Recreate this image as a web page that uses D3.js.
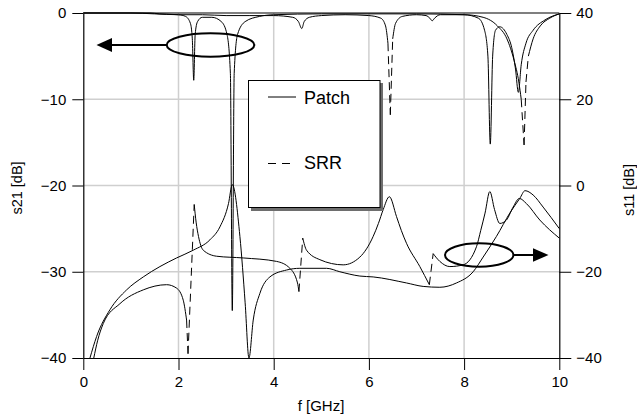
<!DOCTYPE html>
<html><head><meta charset="utf-8">
<script src="https://cdn.jsdelivr.net/npm/d3@7"></script>
<style>
body{margin:0;background:#fff;}
text{font-family:"Liberation Sans",Arial,sans-serif;}
</style></head>
<body><svg id="c" width="637" height="418"></svg>
<script>
// ---- data ----
const xTicks = [0, 2, 4, 6, 8, 10];
const leftTicks = [-40, -30, -20, -10, 0];
const rightTicks = [-40, -20, 0, 20, 40];
const seriesNames = ["Patch", "SRR"];

// s21 in dB (left axis)
const s21Patch = [[0,0],[1.4,0],[1.6,-0.1],[2.0,-0.2],[2.15,-0.4],[2.25,-1.2],[2.29,-3],[2.32,-7.8],[2.35,-2.5],[2.4,-1.0],[2.5,-0.5],[2.7,-0.5],[2.9,-1.0],[3.02,-2.5],[3.09,-7],[3.13,-34.5],[3.17,-7],[3.24,-2.5],[3.4,-1.0],[3.7,-0.4],[4.0,-0.2],[5,-0.1],[6,-0.1],[7,-0.1],[8.0,-0.2],[8.3,-0.6],[8.43,-2],[8.5,-5],[8.55,-15.2],[8.6,-5],[8.66,-2.0],[8.75,-1.6],[8.9,-2.5],[9.0,-4],[9.08,-6.5],[9.14,-9.2],[9.2,-6],[9.3,-3.5],[9.45,-2],[9.7,-0.8],[10,-0.1]];
const s21SRR = [[0,0],[1.0,0],[1.5,-0.1],[2.0,-0.2],[2.5,-0.2],[3.0,-0.3],[3.5,-0.3],[4.0,-0.3],[4.4,-0.5],[4.52,-1.0],[4.59,-1.8],[4.64,-1.0],[4.75,-0.5],[5.0,-0.3],[5.5,-0.2],[6.0,-0.3],[6.25,-0.6],[6.35,-1.5],[6.4,-3.5],[6.45,-11.8],[6.5,-3],[6.56,-1.2],[6.7,-0.4],[7.0,-0.2],[7.2,-0.3],[7.28,-0.6],[7.33,-0.9],[7.38,-0.6],[7.5,-0.2],[8.0,-0.2],[8.4,-0.5],[8.7,-1.5],[8.9,-3],[9.05,-5.5],[9.15,-8],[9.2,-10],[9.26,-15.3],[9.3,-8],[9.35,-5],[9.45,-3],[9.6,-1.5],[9.8,-0.6],[10,-0.1]];
// s11 in dB (right axis)
const s11Patch = [[0.14,-40],[0.28,-35],[0.56,-28.8],[0.91,-24.2],[1.26,-21.2],[1.61,-18.8],[1.96,-16.8],[2.31,-15],[2.66,-12.6],[2.87,-9.6],[3.05,-4.2],[3.13,0.2],[3.29,-11.8],[3.40,-27.2],[3.48,-40],[3.57,-31.2],[3.71,-25],[3.92,-21.2],[4.27,-19.6],[4.55,-19.2],[5.11,-19.2],[5.39,-20],[5.81,-21],[6.09,-21.2],[6.79,-22.6],[7.14,-23.4],[7.49,-23.6],[7.84,-22.6],[8.19,-20],[8.4,-16.6],[8.68,-11.8],[8.96,-6.4],[9.17,-3],[9.28,-1.2],[9.45,-2.2],[9.66,-5],[10,-10]];
const s11SRR = [[0.22,-40],[0.3,-36],[0.42,-32],[0.77,-27.4],[1.26,-24.2],[1.75,-23],[1.96,-23.8],[2.1,-26.6],[2.17,-31.2],[2.2,-39],[2.33,-4.4],[2.37,-8.5],[2.42,-11.8],[2.52,-15],[2.8,-16.4],[3.36,-16.8],[4.06,-17.6],[4.34,-19.2],[4.5,-22.6],[4.53,-24.6],[4.61,-12.2],[4.69,-15],[4.97,-17.2],[5.46,-18.4],[5.81,-16.6],[6.09,-11.8],[6.2,-8.8],[6.3,-5.6],[6.43,-2.6],[6.58,-7.2],[6.68,-10.4],[6.79,-13.4],[7.07,-18.8],[7.27,-23],[7.35,-15.8],[7.49,-17.6],[7.7,-18.8],[7.98,-18.4],[8.26,-14.2],[8.35,-10.4],[8.44,-6.4],[8.54,-1.4],[8.64,-5.6],[8.75,-8.8],[8.89,-8],[9.03,-5],[9.16,-3],[9.31,-4.2],[9.59,-8],[10,-12.2]];

// ---- layout ----
const svg = d3.select("#c");
const X0 = 83.3, X1 = 559.3, Y0 = 13, Y1 = 358;
const x = d3.scaleLinear().domain([0,10]).range([X0,X1]);
const yL = d3.scaleLinear().domain([-40,0]).range([Y1,Y0]);
const yR = d3.scaleLinear().domain([-40,40]).range([Y1,Y0]);

// grid
const grid = svg.append("g").attr("stroke","#cfcfcf").attr("stroke-width",1.5);
xTicks.filter(t=>t>0&&t<10).forEach(t=>grid.append("line").attr("x1",x(t)).attr("x2",x(t)).attr("y1",Y0).attr("y2",Y1));
leftTicks.filter(t=>t>-40&&t<0).forEach(t=>grid.append("line").attr("x1",X0).attr("x2",X1).attr("y1",yL(t)).attr("y2",yL(t)));

// axes
function styleAxis(g){
  g.selectAll("path").attr("stroke","#000").attr("stroke-width",1.2);
  g.selectAll("line").attr("stroke","#000").attr("stroke-width",1);
  g.selectAll("text").attr("font-size",15).attr("fill","#000").attr("font-family","Liberation Sans, Arial, sans-serif");
}
svg.append("g").attr("transform",`translate(${X0},0)`)
  .call(d3.axisLeft(yL).tickValues(leftTicks).tickSize(11).tickSizeOuter(0).tickPadding(6)).call(styleAxis);
svg.append("g").attr("transform",`translate(${X1},0)`)
  .call(d3.axisRight(yR).tickValues(rightTicks).tickSize(12).tickSizeOuter(0).tickPadding(5)).call(styleAxis);
svg.append("g").attr("transform",`translate(0,${Y1})`)
  .call(d3.axisBottom(x).tickValues(xTicks).tickSize(12).tickSizeOuter(0).tickPadding(6)).call(styleAxis);
svg.append("line").attr("x1",X0).attr("x2",X1).attr("y1",Y0).attr("y2",Y0).attr("stroke","#000").attr("stroke-width",1.2);

// axis titles
svg.append("text").attr("x",321).attr("y",411).attr("text-anchor","middle").attr("font-size",15).text("f [GHz]");
svg.append("text").attr("transform","translate(22,188) rotate(-90)").attr("text-anchor","middle").attr("font-size",14.5).text("s21 [dB]");
svg.append("text").attr("transform","translate(634,190) rotate(-90)").attr("text-anchor","middle").attr("font-size",14.5).text("s11 [dB]");

// curves
const curves = svg.append("g").attr("fill","none").attr("stroke","#000").attr("stroke-width",1);
function draw(data, ys, dashed){
  const line = d3.line().x(d=>x(d[0])).y(d=>ys(d[1])).curve(d3.curveMonotoneX);
  if(!dashed){ curves.append("path").attr("d",line(data)); return; }
  let run=[data[0]];
  const flush=()=>{ if(run.length>1) curves.append("path").attr("d",line(run)); };
  for(let i=1;i<data.length;i++){
    const dy=Math.abs(ys(data[i][1])-ys(data[i-1][1]));
    if(dy>25){
      flush();
      curves.append("line").attr("x1",x(data[i-1][0])).attr("y1",ys(data[i-1][1]))
        .attr("x2",x(data[i][0])).attr("y2",ys(data[i][1])).attr("stroke-dasharray","8,5");
      run=[data[i]];
    } else run.push(data[i]);
  }
  flush();
}
draw(s21Patch, yL, false);
draw(s11Patch, yR, false);
draw(s21SRR, yL, true);
draw(s11SRR, yR, true);

// annotations: ellipses with arrows
const ann = svg.append("g").attr("stroke","#000").attr("fill","none").attr("stroke-width",2);
ann.append("ellipse").attr("cx",210.5).attr("cy",45).attr("rx",43.8).attr("ry",11.7);
ann.append("line").attr("x1",166.7).attr("y1",45).attr("x2",110).attr("y2",45);
svg.append("path").attr("d","M96.5,45 L112,38 L112,52 Z").attr("fill","#000");
ann.append("ellipse").attr("cx",479.2).attr("cy",255).attr("rx",34.2).attr("ry",11.7);
ann.append("line").attr("x1",513.4).attr("y1",255).attr("x2",535).attr("y2",255);
svg.append("path").attr("d","M548.5,255 L533,248.3 L533,261.7 Z").attr("fill","#000");

// legend
const lg = svg.append("g");
lg.append("rect").attr("x",251).attr("y",83).attr("width",132).attr("height",128).attr("fill","#6e6e6e");
lg.append("rect").attr("x",248.5).attr("y",80.5).attr("width",131.5).attr("height",127).attr("fill","#fff").attr("stroke","#000").attr("stroke-width",1);
lg.append("line").attr("x1",268).attr("x2",296).attr("y1",97).attr("y2",97).attr("stroke","#000").attr("stroke-width",1);
lg.append("text").attr("x",304).attr("y",103.5).attr("font-size",18).text(seriesNames[0]);
lg.append("line").attr("x1",268).attr("x2",296).attr("y1",163.5).attr("y2",163.5).attr("stroke","#000").attr("stroke-width",1).attr("stroke-dasharray","8,6");
lg.append("text").attr("x",304).attr("y",168.5).attr("font-size",18).text(seriesNames[1]);
</script></body></html>
